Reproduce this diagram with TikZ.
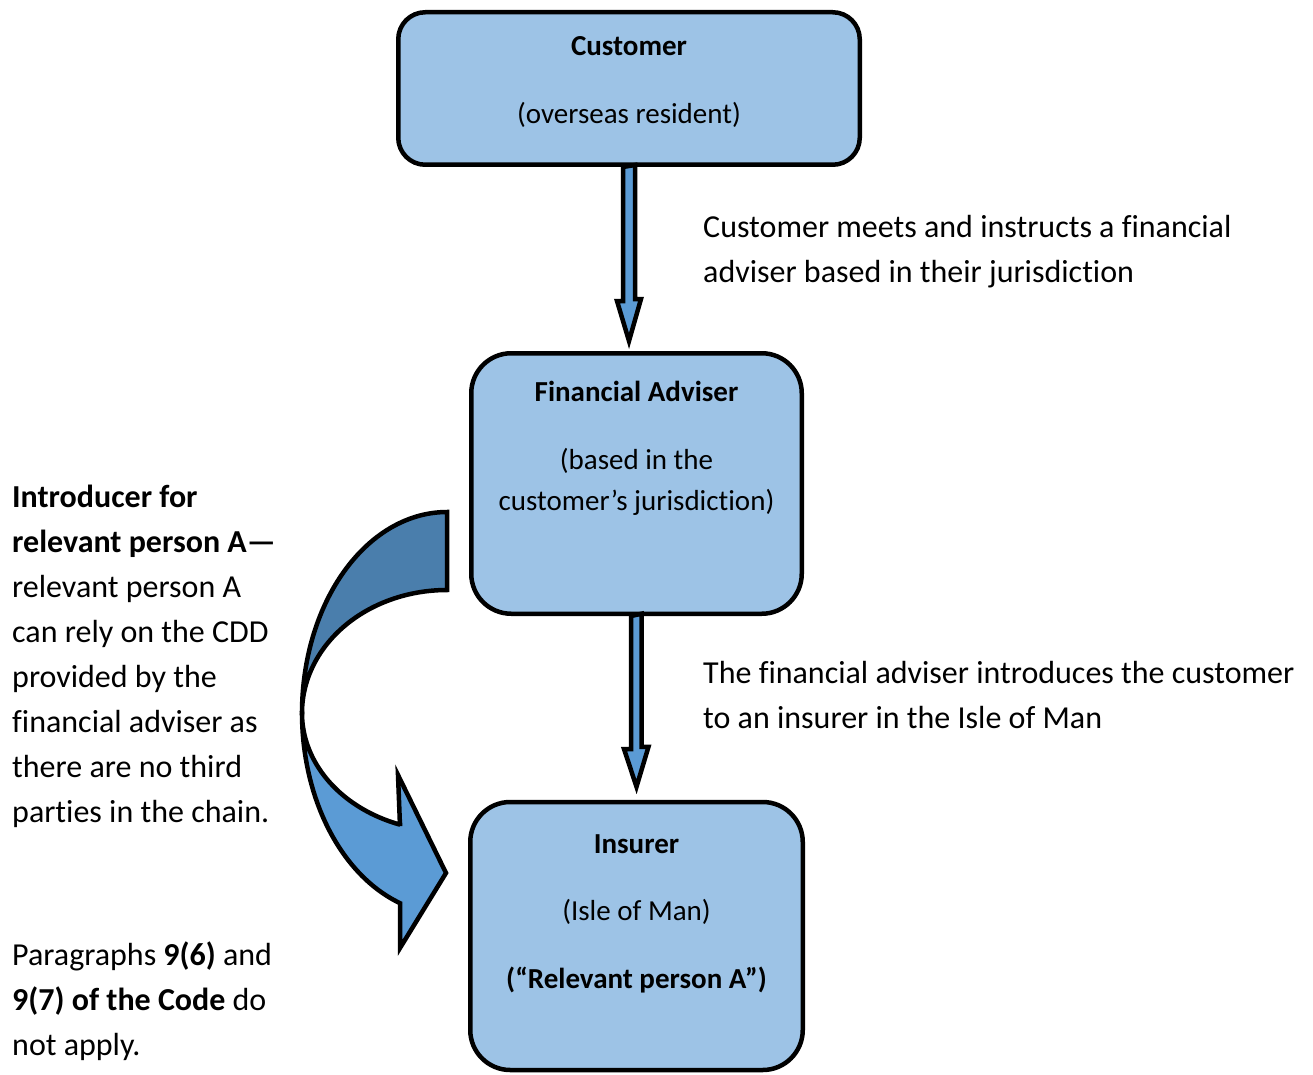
\documentclass[tikz,border=0pt]{standalone}
\usepackage{fontspec}
\setmainfont{Carlito}[Ligatures={NoCommon,NoRequired,NoContextual},Contextuals=NoAlternate]
\usetikzlibrary{calc}
\definecolor{boxfill}{HTML}{9DC3E6}
\definecolor{arrowfill}{HTML}{5B9BD5}
\definecolor{darkband}{HTML}{4A7EAC}
\tikzset{
  box/.style={draw=black, line width=4.5pt, fill=boxfill, inner sep=0pt},
  barrow/.style={draw=black, line width=4.5pt, fill=arrowfill, line join=miter},
  cband/.style={draw=black, line width=4.5pt, line join=miter},
  boxtxt/.style={inner sep=0pt, align=center, anchor=north, font=\fontsize{29}{41}\selectfont},
  sidetxt/.style={inner sep=0pt, align=left, anchor=north west, font=\fontsize{32}{45}\selectfont},
}
\begin{document}
\begin{tikzpicture}[x=1pt, y=-1pt]
\useasboundingbox (0,0) rectangle (1313,1075);

% boxes
\node[box, rounded corners=27pt, minimum width=461.5pt, minimum height=152.5pt] (cust) at (629,88.5) {};
\node[box, rounded corners=40pt, minimum width=330.5pt, minimum height=260.5pt] (adv) at (636.5,483.5) {};
\node[box, rounded corners=40pt, minimum width=332.5pt, minimum height=268pt] (ins) at (636.5,936) {};

% straight block arrows
\draw[barrow] ($(cust.south)+(-6,0)$) -- ++(0,134) -- ++(-6,0)
   -- ($(cust.south |- adv.north)+(0,-10)$) -- ++(12,-42) -- ++(-6,0) -- ++(0,-134) -- cycle;
\draw[barrow] ($(adv.south)+(-5.5,0)$) -- ++(0,133) -- ++(-7,0)
   -- ($(adv.south |- ins.north)+(0,-13)$) -- ++(12,-40) -- ++(-7,0) -- ++(0,-133) -- cycle;

% curved arrow from adviser to insurer
\fill[darkband] (447,512) -- plot[domain=270:180, samples=60, variable=\t] ({447+145*cos(\t)},{713+201*sin(\t)})
   -- plot[domain=180:270, samples=60, variable=\t] ({447+145*cos(\t)},{713+123*sin(\t)}) -- cycle;
\draw[cband] (447,512) -- plot[domain=270:180, samples=60, variable=\t] ({447+145*cos(\t)},{713+201*sin(\t)})
   -- plot[domain=180:270, samples=60, variable=\t] ({447+145*cos(\t)},{713+123*sin(\t)}) -- cycle;
\fill[arrowfill] (302,713) -- plot[domain=180:108.9, samples=60, variable=\t] ({447+145*cos(\t)},{713+201*sin(\t)})
   -- (400,948) -- ($(ins.west |- 0,873)+(-22,0)$) -- (398,775) -- (400,826)
   -- plot[domain=108.9:180, samples=60, variable=\t] ({447+145*cos(\t)},{713+118*sin(\t)}) -- cycle;
\draw[cband] (302,713) -- plot[domain=180:108.9, samples=60, variable=\t] ({447+145*cos(\t)},{713+201*sin(\t)})
   -- (400,948) -- ($(ins.west |- 0,873)+(-22,0)$) -- (398,775) -- (400,826)
   -- plot[domain=108.9:180, samples=60, variable=\t] ({447+145*cos(\t)},{713+118*sin(\t)}) -- cycle;

% box texts
\node[boxtxt] (custT) at (629,27) {\strut\textbf{Customer}};
\node[boxtxt] (custS) at (629,95) {\strut(overseas resident)};
\node[boxtxt] (advT) at (636.5,373) {\strut\textbf{Financial Adviser}};
\node[boxtxt] (advS) at (636.5,441) {\strut(based in the\\customer’s jurisdiction)};
\node[boxtxt] (insT) at (636.5,825) {\strut\textbf{Insurer}};
\node[boxtxt] (insS) at (636.5,892) {\strut(Isle of Man)};
\node[boxtxt] (insR) at (636.5,960) {\strut\textbf{(“Relevant person A”)}};

% side texts
\node[sidetxt] (lab1) at (703,205.5) {\strut Customer meets and instructs a financial\\adviser based in their jurisdiction};
\node[sidetxt] (lab2) at (703,651.5) {\strut The financial adviser introduces the customer\\to an insurer in the Isle of Man};
\node[sidetxt] (left1) at (12,475.5) {\strut\textbf{Introducer for}\\\textbf{relevant person A—}\\relevant person A\\can rely on the CDD\\provided by the\\financial adviser as\\there are no third\\parties in the chain.};
\node[sidetxt] (left2) at (12,933.5) {\strut Paragraphs \textbf{9(6)} and\\\textbf{9(7) of the Code} do\\not apply.};
\end{tikzpicture}
\end{document}
